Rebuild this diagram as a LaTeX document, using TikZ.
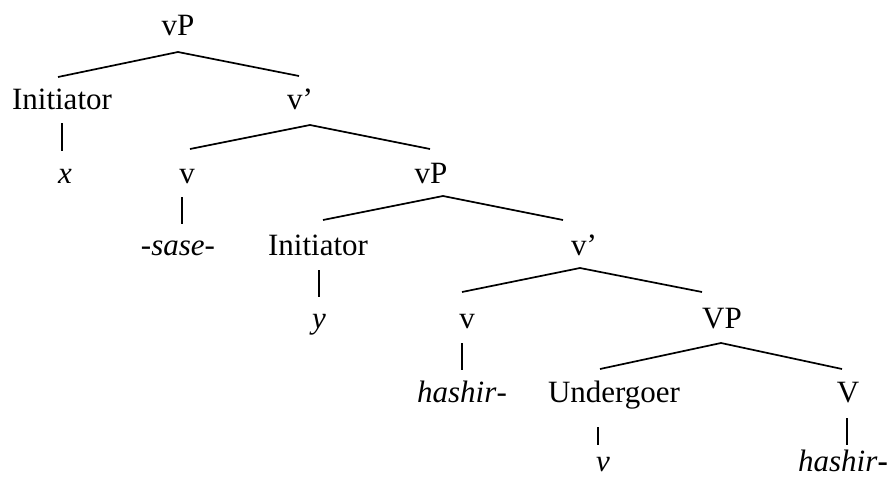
\documentclass[tikz,border=0pt]{standalone}
\usepackage{fontspec}
\setmainfont{Liberation Serif}
\begin{document}
\begin{tikzpicture}[x=1pt,y=-1pt,
  lbl/.style={anchor=base,inner sep=0pt,font=\fontsize{31}{37}\selectfont},
  br/.style={line width=1.7pt},
  bar/.style={line width=1.7pt}]
\useasboundingbox (0,0) rectangle (889,477);
% labels
\node[lbl] (vPa) at (178,35) {vP};
\node[lbl] (initA) at (62,109) {Initiator};
\node[lbl] (vbarA) at (300,109) {v’};
\node[lbl] (xA) at (65,183) {\textit{x}};
\node[lbl] (vA) at (187,183) {v};
\node[lbl] (vPb) at (431,183) {vP};
\node[lbl] (sase) at (178,255) {-\textit{sase}-};
\node[lbl] (initB) at (318,255) {Initiator};
\node[lbl] (vbarB) at (584,255) {v’};
\node[lbl] (yB) at (319,328) {\textit{y}};
\node[lbl] (vB) at (467,328) {v};
\node[lbl] (VP) at (722,328) {VP};
\node[lbl] (hashA) at (462,402) {\textit{hashir}-};
\node[lbl] (under) at (614,402) {Undergoer};
\node[lbl] (Vn) at (848,402) {V};
\node[lbl] (vC) at (603,471) {\textit{v}};
\node[lbl] (hashB) at (843,471) {\textit{hashir}\textbf{-}};
% branch points
\coordinate (a0) at (178,52);  \coordinate (a0l) at (58,77);   \coordinate (a0r) at (299,76);
\coordinate (a1) at (310,125); \coordinate (a1l) at (190,149); \coordinate (a1r) at (430,149);
\coordinate (a2) at (443,196); \coordinate (a2l) at (323,220); \coordinate (a2r) at (563,220);
\coordinate (a3) at (580,268); \coordinate (a3l) at (462,292); \coordinate (a3r) at (702,292);
\coordinate (a4) at (721,343); \coordinate (a4l) at (600,369); \coordinate (a4r) at (842,369);
\draw[br] (a0l) -- (a0) -- (a0r);
\draw[br] (a1l) -- (a1) -- (a1r);
\draw[br] (a2l) -- (a2) -- (a2r);
\draw[br] (a3l) -- (a3) -- (a3r);
\draw[br] (a4l) -- (a4) -- (a4r);
% unary bars
\coordinate (b1t) at (62,123);  \coordinate (b1b) at (62,151);
\coordinate (b2t) at (182,197); \coordinate (b2b) at (182,224);
\coordinate (b3t) at (319,270); \coordinate (b3b) at (319,297);
\coordinate (b4t) at (462,343); \coordinate (b4b) at (462,370);
\coordinate (b5t) at (598,427); \coordinate (b5b) at (598,445);
\coordinate (b6t) at (847,418); \coordinate (b6b) at (847,445);
\draw[bar] (b1t) -- (b1b);
\draw[bar] (b2t) -- (b2b);
\draw[bar] (b3t) -- (b3b);
\draw[bar] (b4t) -- (b4b);
\draw[bar] (b5t) -- (b5b);
\draw[bar] (b6t) -- (b6b);
\end{tikzpicture}
\end{document}
